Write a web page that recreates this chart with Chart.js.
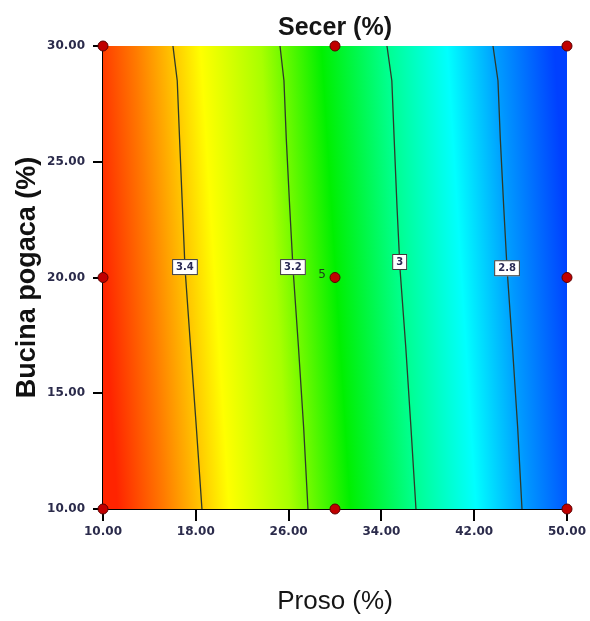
<!DOCTYPE html>
<html>
<head>
<meta charset="utf-8">
<script src="https://cdn.jsdelivr.net/npm/chart.js@4.4.1/dist/chart.umd.min.js"></script>
<style>
  html, body { margin: 0; padding: 0; background: #ffffff; }
  #wrap { width: 590px; height: 621px; }
</style>
</head>
<body>
<div id="wrap"><canvas id="c" width="590" height="621"></canvas></div>
<script>
// Axis tick values
const xTicks = [10, 18, 26, 34, 42, 50];   // Proso (%)
const yTicks = [10, 15, 20, 25, 30];       // Bucina pogaca (%)

// Contour levels of Secer (%) and their traces (x at each y in contourY)
const contourLevels = [3.4, 3.2, 3, 2.8];
const contourY   = [30, 28.5, 26, 23, 20.4, 17, 13.5, 10];
const contour34  = [16.03, 16.4, 16.6, 16.85, 17.07, 17.55, 18.05, 18.53];
const contour32  = [25.26, 25.6, 25.8, 26.1, 26.38, 26.85, 27.3, 27.67];
const contour30  = [34.48, 34.9, 35.1, 35.35, 35.6, 36.1, 36.55, 36.98];
const contour28  = [43.62, 44.05, 44.25, 44.55, 44.83, 45.3, 45.75, 46.12];
const contourLabelY = [20.45, 20.45, 20.67, 20.4];

// Design points
const designProso  = [10, 30, 50, 10, 30, 50, 10, 30, 50];
const designBucina = [10, 10, 10, 20, 20, 20, 30, 30, 30];
const centerReplicates = 5;

const contourTraces = [contour34, contour32, contour30, contour28];

const contourDatasets = contourTraces.map((xs, i) => ({
  label: String(contourLevels[i]),
  data: xs.map((x, k) => ({ x: x, y: contourY[k] })),
  showLine: true,
  borderColor: '#2e3a2a',
  borderWidth: 1.3,
  pointRadius: 0,
  tension: 0,
  order: 2
}));

const designDataset = {
  label: 'design',
  data: designProso.map((x, i) => ({ x: x, y: designBucina[i] })),
  pointRadius: 5,
  pointBackgroundColor: '#c00000',
  pointBorderColor: '#5a0000',
  pointBorderWidth: 1,
  clip: false,
  order: 1
};

// Rainbow fill behind the contours, tilted along the contour direction
const backgroundPlugin = {
  id: 'surfaceFill',
  beforeDatasetsDraw(chart) {
    const { ctx, chartArea: a } = chart;
    const w = a.right - a.left, h = a.bottom - a.top;
    const midY = (a.top + a.bottom) / 2;
    const slope = 29 / 463;
    const g = ctx.createLinearGradient(a.left, midY, a.right, midY - w * slope);
    g.addColorStop(0.00, '#ff2400');
    g.addColorStop(0.10, '#ff7a00');
    g.addColorStop(0.24, '#ffff00');
    g.addColorStop(0.37, '#a8ff00');
    g.addColorStop(0.50, '#00f000');
    g.addColorStop(0.64, '#00ff90');
    g.addColorStop(0.77, '#00ffff');
    g.addColorStop(0.88, '#0098ff');
    g.addColorStop(1.00, '#0040ff');
    ctx.save();
    ctx.fillStyle = g;
    ctx.fillRect(a.left, a.top, w, h);
    ctx.restore();
  }
};

function traceXAt(xs, y) {
  for (let k = 0; k < contourY.length - 1; k++) {
    const y0 = contourY[k], y1 = contourY[k + 1];
    if ((y <= y0 && y >= y1)) {
      const t = (y - y0) / (y1 - y0);
      return xs[k] + t * (xs[k + 1] - xs[k]);
    }
  }
  return xs[0];
}

// Level labels on the contours and the replicate count at the centre point
const labelPlugin = {
  id: 'contourLabels',
  afterDatasetsDraw(chart) {
    const { ctx } = chart;
    const xs = chart.scales.x, ys = chart.scales.y;
    ctx.save();
    ctx.font = 'bold 10px "DejaVu Sans"';
    ctx.textAlign = 'center';
    ctx.textBaseline = 'middle';
    contourTraces.forEach((tr, i) => {
      const ly = contourLabelY[i];
      const px = xs.getPixelForValue(traceXAt(tr, ly));
      const py = ys.getPixelForValue(ly);
      const txt = String(contourLevels[i]);
      const tw = ctx.measureText(txt).width;
      const bw = tw + 8, bh = 16;
      ctx.fillStyle = '#ffffff';
      ctx.fillRect(px - bw / 2, py - bh / 2, bw, bh);
      ctx.strokeStyle = '#3a3a3a';
      ctx.lineWidth = 1;
      ctx.strokeRect(px - bw / 2 + 0.5, py - bh / 2 + 0.5, bw - 1, bh - 1);
      ctx.fillStyle = '#2a2a55';
      ctx.fillText(txt, px, py + 0.5);
    });
    const cx = xs.getPixelForValue(30), cy = ys.getPixelForValue(20);
    ctx.font = '12px "DejaVu Sans"';
    ctx.fillStyle = '#1c3a1c';
    ctx.fillText(String(centerReplicates), cx - 13, cy - 3);
    ctx.restore();
  }
};

const tickFont = { family: '"DejaVu Sans"', size: 12, weight: 'bold' };
const tickColor = '#2b2b4b';

new Chart(document.getElementById('c'), {
  type: 'scatter',
  data: { datasets: [...contourDatasets, designDataset] },
  options: {
    responsive: false,
    animation: false,
    layout: { padding: { top: 0, right: 23, left: 0, bottom: 0 } },
    plugins: { legend: { display: false }, tooltip: { enabled: false } },
    scales: {
      x: {
        type: 'linear', position: 'bottom', min: 10, max: 50,
        afterBuildTicks: s => { s.ticks = xTicks.map(v => ({ value: v })); },
        afterFit: s => { s.height = 112; },
        ticks: { callback: v => Number(v).toFixed(2), font: tickFont, color: tickColor, padding: 4, maxRotation: 0 },
        grid: { drawOnChartArea: false, drawTicks: true, tickLength: 12, color: '#000000', lineWidth: 2 },
        border: { display: true, color: '#000000', width: 2 },
        title: { display: true, text: 'Proso (%)', color: '#151515',
                 font: { family: '"Liberation Sans"', size: 26 }, padding: { top: 0, bottom: 4 } }
      },
      y: {
        type: 'linear', position: 'left', min: 10, max: 30,
        afterBuildTicks: s => { s.ticks = yTicks.map(v => ({ value: v })); },
        afterFit: s => { s.width = 103; },
        ticks: { callback: v => Number(v).toFixed(2), font: tickFont, color: tickColor, padding: 8 },
        grid: { drawOnChartArea: false, drawTicks: true, tickLength: 10, color: '#000000', lineWidth: 2 },
        border: { display: true, color: '#000000', width: 2 },
        title: { display: true, text: 'Bucina pogaca (%)', color: '#111111',
                 font: { family: '"Liberation Sans"', size: 27, weight: 'bold' }, padding: { top: 11, bottom: 0 } }
      },
      top: {
        type: 'linear', position: 'top', min: 10, max: 50,
        afterFit: s => { s.height = 46; },
        ticks: { display: false },
        grid: { display: false },
        border: { display: false },
        title: { display: true, text: 'Secer (%)', color: '#151515',
                 font: { family: '"Liberation Sans"', size: 25, weight: 'bold' }, padding: { top: 13, bottom: 0 } }
      }
    }
  },
  plugins: [backgroundPlugin, labelPlugin]
});
</script>
</body>
</html>
